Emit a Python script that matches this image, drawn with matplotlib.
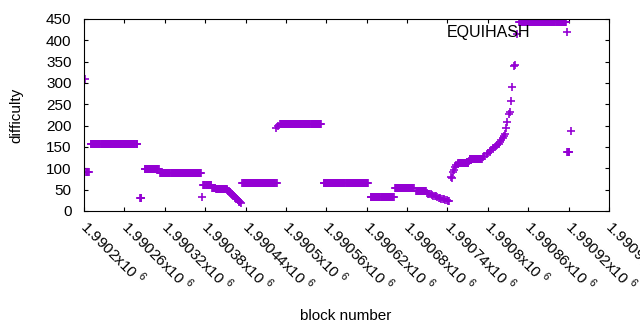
import numpy as np
import matplotlib
matplotlib.use('Agg')
import matplotlib.pyplot as plt

plt.rcParams['font.family'] = ['Liberation Sans', 'DejaVu Sans']
plt.rcParams['mathtext.fontset'] = 'custom'
plt.rcParams['mathtext.rm'] = 'Liberation Sans'

# flat stretches: first block, last block, difficulty
run_start = [1990203, 1990210, 1990283, 1990290, 1990313, 1990377, 1990390, 1990396,
             1990435, 1990491, 1990556, 1990626, 1990662, 1990693, 1990756, 1990773,
             1990847, 1990918]
run_end = [1990207, 1990279, 1990285, 1990311, 1990374, 1990389, 1990395, 1990412,
           1990486, 1990552, 1990622, 1990660, 1990690, 1990708, 1990771, 1990791,
           1990916, 1990921]
run_diff = [91, 156, 30, 98, 88, 60, 54, 52, 65, 203, 65, 32, 53, 46, 113, 121, 442, 138]

# single blocks
single_block = [1990202, 1990376, 1990485, 1990488, 1990745, 1990746, 1990923]
single_diff = [310, 32, 194, 199, 80, 77, 187]

# first falling stretch
fall1_block = [1990413, 1990414, 1990415, 1990416, 1990417, 1990418, 1990419, 1990420,
               1990421, 1990422, 1990423, 1990424, 1990425, 1990426, 1990427, 1990428,
               1990429, 1990430, 1990431, 1990432, 1990433]
fall1_diff = [49, 48, 46, 45, 44, 42, 41, 39, 38, 36, 35, 33, 31, 30, 28, 27, 25, 24, 22, 21, 19]

# second falling stretch
fall2_block = [1990709, 1990711, 1990713, 1990715, 1990717, 1990719, 1990721, 1990723,
               1990725, 1990727, 1990729, 1990731, 1990733, 1990735, 1990737, 1990739,
               1990741, 1990743]
fall2_diff = [42, 41, 40, 39, 37, 36, 35, 34, 33, 31, 30, 29, 28, 27, 26, 25, 24, 24]

# climb up to the 440 level
rise_block = [1990748, 1990749, 1990751, 1990753, 1990755, 1990772, 1990793, 1990795,
              1990798, 1990800, 1990803, 1990805, 1990808, 1990810, 1990812, 1990814,
              1990816, 1990818, 1990820, 1990822, 1990824, 1990826, 1990827, 1990829,
              1990832, 1990833, 1990834, 1990836, 1990839, 1990840, 1990844]
rise_diff = [92, 96, 104, 107, 110, 117, 127, 130, 134, 136, 139, 143, 147, 150, 152, 155,
             158, 162, 166, 171, 175, 180, 195, 209, 228, 232, 258, 291, 339, 342, 416]

xtick_pos = [1990200, 1990260, 1990320, 1990380, 1990440, 1990500, 1990560,
             1990620, 1990680, 1990740, 1990800, 1990860, 1990920, 1990980]
xtick_txt = ['1.9902', '1.99026', '1.99032', '1.99038', '1.99044', '1.9905', '1.99056',
             '1.99062', '1.99068', '1.99074', '1.9908', '1.99086', '1.99092', '1.99098']

blocks = np.concatenate([np.arange(s, e + 1) for s, e in zip(run_start, run_end)] +
                        [single_block, fall1_block, fall2_block, rise_block])
diffs = np.concatenate([np.full(e - s + 1, d) for s, e, d in zip(run_start, run_end, run_diff)] +
                       [single_diff, fall1_diff, fall2_diff, rise_diff])

fig = plt.figure(figsize=(6.4, 3.3), dpi=100)
ax = fig.add_axes([84/640, 1 - 211/330, 525/640, 192/330])

ax.plot(blocks, diffs, '+', color='#9400D3', ms=5.5, mew=1.2, label='EQUIHASH')

ax.set_xlim(1990200, 1990980)
ax.set_ylim(0, 450)
ax.set_yticks(range(0, 451, 50))
ax.set_xticks(xtick_pos)
ax.set_xticklabels([t + 'x10 $^{6}$' for t in xtick_txt],
                   rotation=-45, ha='left', va='center', rotation_mode='anchor')
ax.tick_params(direction='in', top=True, right=True, length=3, width=0.8, labelsize=11)
ax.tick_params(axis='y', pad=9)
ax.tick_params(axis='x', pad=9)
for s in ax.spines.values():
    s.set_linewidth(0.8)

ax.legend(loc='center right', bbox_to_anchor=(588/640, 1 - 33/330), bbox_transform=fig.transFigure,
          frameon=False, markerfirst=False, handlelength=2.6, handletextpad=1.0,
          borderpad=0, borderaxespad=0, numpoints=1, fontsize=11.5)

fig.text(16/640, 1 - 115/330, 'difficulty', rotation=90, ha='center', va='center', fontsize=11)
fig.text(346/640, 1 - 319.5/330, 'block number', ha='center', va='baseline', fontsize=11)

fig.savefig('out.png', dpi=100)
